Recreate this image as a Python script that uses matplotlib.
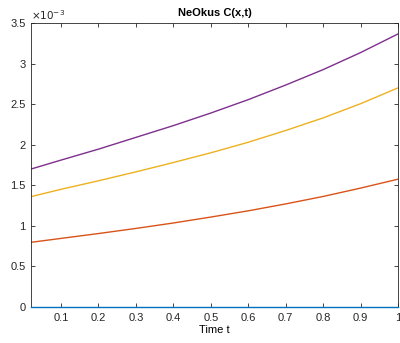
import numpy as np
import matplotlib
matplotlib.use('Agg')
import matplotlib.pyplot as plt
from matplotlib.ticker import FixedLocator, FixedFormatter

plt.rcParams['font.family'] = ['Liberation Sans', 'DejaVu Sans']

# Data (values in units of 1e-3)
t = [0.02, 0.1, 0.2, 0.3, 0.4, 0.5, 0.6, 0.7, 0.8, 0.9, 1.0]
c_blue = [0, 0, 0, 0, 0, 0, 0, 0, 0, 0, 0]
c_orange = [0.797, 0.845, 0.905, 0.968, 1.035, 1.108, 1.185, 1.27, 1.362, 1.465, 1.575]
c_yellow = [1.36, 1.45, 1.555, 1.665, 1.78, 1.90, 2.03, 2.175, 2.33, 2.505, 2.70]
c_purple = [1.70, 1.81, 1.945, 2.09, 2.235, 2.39, 2.555, 2.735, 2.925, 3.135, 3.365]

x_ticks = [0.1, 0.2, 0.3, 0.4, 0.5, 0.6, 0.7, 0.8, 0.9, 1.0]
x_labels = ['0.1', '0.2', '0.3', '0.4', '0.5', '0.6', '0.7', '0.8', '0.9', '1']
y_ticks = [0, 0.5, 1, 1.5, 2, 2.5, 3, 3.5]
y_labels = ['0', '0.5', '1', '1.5', '2', '2.5', '3', '3.5']

fig = plt.figure(figsize=(4.0, 3.43), dpi=100)
ax = fig.add_axes([0.0775, 0.105, 0.9175, 0.828])

scale = 1e-3
ax.plot(t, np.array(c_blue) * scale, color='#0072BD', lw=1.0, clip_on=False, zorder=5)
ax.plot(t, np.array(c_orange) * scale, color='#D95319', lw=1.0)
ax.plot(t, np.array(c_yellow) * scale, color='#EDB120', lw=1.0)
ax.plot(t, np.array(c_purple) * scale, color='#7E2F8E', lw=1.0)

ax.set_xlim(0.02, 1.0)
ax.set_ylim(0, 3.5e-3)
ax.xaxis.set_major_locator(FixedLocator(x_ticks))
ax.xaxis.set_major_formatter(FixedFormatter(x_labels))
ax.yaxis.set_major_locator(FixedLocator([v * scale for v in y_ticks]))
ax.yaxis.set_major_formatter(FixedFormatter(y_labels))

ax.tick_params(direction='in', top=True, right=True, length=3, width=0.6,
               labelsize=8, colors='#262626', pad=4)
for s in ax.spines.values():
    s.set_color('#262626')
    s.set_linewidth(0.6)

ax.set_title('NeOkus C(x,t)', fontsize=8, fontweight='bold', pad=5)
ax.set_xlabel('Time t', fontsize=8, labelpad=2)
ax.text(0.0, 1.005, r'$\times10^{-3}$', transform=ax.transAxes, fontsize=7.5,
        ha='left', va='bottom', color='#262626')

fig.savefig('out.png', dpi=100)
